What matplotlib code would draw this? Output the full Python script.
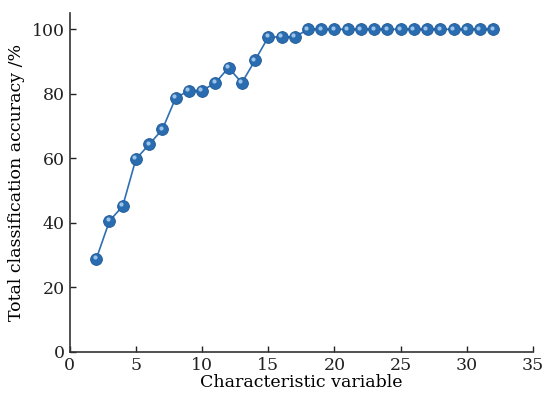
import matplotlib.pyplot as plt
import matplotlib.transforms as mtransforms

# Accuracy vs number of characteristic variables
n_vars = list(range(2, 33))
accuracy = [28.8, 40.6, 45.2, 59.8, 64.3, 69.0, 78.7, 81.0, 81.0, 83.4,
            88.1, 83.4, 90.4, 97.6, 97.6, 97.6] + [100.0] * 15

plt.rcParams['font.family'] = 'DejaVu Serif'

fig = plt.figure(figsize=(5.45, 3.99), dpi=100)
ax = fig.add_axes([0.128, 0.118, 0.850, 0.849])

ax.plot(n_vars, accuracy, color='#2e6fb3', lw=1.2, marker='o', ms=8.5,
        markerfacecolor='#2a6cb0', markeredgecolor='#1f5a96', markeredgewidth=0.6)
# small highlight on each sphere, shifted up-left
shift = mtransforms.ScaledTranslation(-1.2 / 72, 1.2 / 72, fig.dpi_scale_trans)
ax.plot(n_vars, accuracy, ls='none', marker='o', ms=3,
        markerfacecolor='#9cc4ea', markeredgecolor='none',
        transform=ax.transData + shift)

ax.set_xlim(0, 35)
ax.set_ylim(0, 105)
ax.set_xticks(range(0, 36, 5))
ax.set_yticks(range(0, 101, 20))
ax.spines['top'].set_visible(False)
ax.spines['right'].set_visible(False)
for s in ('left', 'bottom'):
    ax.spines[s].set_color('#333333')
    ax.spines[s].set_linewidth(1.2)
ax.tick_params(direction='in', length=4, width=1, labelsize=12.5, colors='#222222')
ax.set_xlabel('Characteristic variable', fontsize=12.5, labelpad=0)
ax.set_ylabel('Total classification accuracy /%', fontsize=12.5, labelpad=5)

fig.savefig('out.png', dpi=100)
